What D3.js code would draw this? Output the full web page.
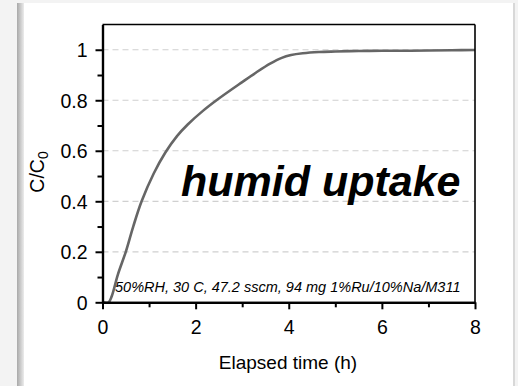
<!DOCTYPE html>
<html>
<head>
<meta charset="utf-8">
<script src="https://cdn.jsdelivr.net/npm/d3@7"></script>
<style>
body{margin:0;background:#fff;}
svg{display:block;font-family:Arial,"Liberation Sans",sans-serif;}
</style>
</head>
<body>
<div id="chart"></div>
<script>
// uptake curve
const timeH = [0, 0.13, 0.2, 0.33, 0.5, 0.66, 0.84, 1.1, 1.35, 1.6, 1.83, 2.15, 2.47, 3.0, 3.3, 3.6, 3.85, 4.05, 4.3, 4.65, 5.0, 5.5, 6.0, 6.5, 7.0, 7.5, 8.0];
const ratio = [0, 0, 0.025, 0.11, 0.2, 0.3, 0.4, 0.51, 0.593, 0.658, 0.704, 0.757, 0.803, 0.872, 0.91, 0.945, 0.968, 0.979, 0.986, 0.991, 0.993, 0.995, 0.996, 0.996, 0.997, 0.998, 0.999];
const xTicks = [0, 2, 4, 6, 8];
const yTicks = [0, 0.2, 0.4, 0.6, 0.8, 1];
const xMinor = [1, 3, 5, 7];
const yMinor = [0.1, 0.3, 0.5, 0.7, 0.9];

const W = 518, H = 386;
const m = {left:102.5, right:43, top:24.5, bottom:83.7};
const cw = W - m.left - m.right;
const ch = H - m.top - m.bottom;

const svg = d3.select('#chart').append('svg').attr('width', W).attr('height', H);

// card background
svg.append('rect').attr('width', W).attr('height', H).attr('fill', '#f3f3f3');
const grad = svg.append('defs').append('linearGradient').attr('id', 'sh');
grad.append('stop').attr('offset', '0%').attr('stop-color', '#a8a8a8');
grad.append('stop').attr('offset', '100%').attr('stop-color', '#ececec');
svg.append('rect').attr('x', 17).attr('y', 3).attr('width', 7).attr('height', H).attr('fill', 'url(#sh)');
svg.append('rect').attr('x', 24).attr('y', 3).attr('width', 489).attr('height', H).attr('fill', '#fff');
svg.append('rect').attr('x', 513).attr('y', 3).attr('width', 2).attr('height', H).attr('fill', '#d8d8d8');

const g = svg.append('g').attr('transform', `translate(${m.left},${m.top})`);

const x = d3.scaleLinear().domain([0, 8]).range([0, cw]);
const y = d3.scaleLinear().domain([0, 1.1]).range([ch, 0]);

// dashed grid
g.selectAll('.grid').data(yTicks.filter(d => d > 0)).join('line')
  .attr('x1', 0).attr('x2', cw)
  .attr('y1', d => y(d)).attr('y2', d => y(d))
  .attr('stroke', '#d0d0d0').attr('stroke-width', 1.2).attr('stroke-dasharray', '6,4');

// curve
const pts = timeH.map((t, i) => ({t: t, v: ratio[i]}));
g.append('path').datum(pts)
  .attr('fill', 'none').attr('stroke', '#666').attr('stroke-width', 2.6)
  .attr('d', d3.line().x(d => x(d.t)).y(d => y(d.v)).curve(d3.curveCatmullRom.alpha(0.5)));

// frame top/right
g.append('line').attr('x1', 0).attr('x2', cw).attr('y1', 0).attr('y2', 0).attr('stroke', '#000').attr('stroke-width', 1.6);
g.append('line').attr('x1', cw).attr('x2', cw).attr('y1', 0).attr('y2', ch).attr('stroke', '#000').attr('stroke-width', 1.6);

// axes
const xAxis = g.append('g').attr('transform', `translate(0,${ch})`)
  .call(d3.axisBottom(x).tickValues(xTicks).tickFormat(d3.format('d')).tickSize(7).tickSizeOuter(0).tickPadding(11));
const xMin = g.append('g').attr('transform', `translate(0,${ch})`)
  .call(d3.axisBottom(x).tickValues(xMinor).tickFormat('').tickSize(5).tickSizeOuter(0));
const yAxis = g.append('g')
  .call(d3.axisLeft(y).tickValues(yTicks).tickFormat(d => d === 0 || d === 1 ? d : d.toFixed(1)).tickSize(7).tickSizeOuter(0).tickPadding(8));
const yMin = g.append('g')
  .call(d3.axisLeft(y).tickValues(yMinor).tickFormat('').tickSize(5).tickSizeOuter(0));

[xAxis, xMin, yAxis, yMin].forEach(a => {
  a.select('.domain').attr('stroke', '#000').attr('stroke-width', 2.2);
  a.selectAll('.tick line').attr('stroke', '#000').attr('stroke-width', 2);
  a.selectAll('.tick text').attr('fill', '#000').style('font-size', '19.5px').style('font-family', 'Arial,"Liberation Sans",sans-serif');
});
yAxis.selectAll('.tick text').attr('dy', '0.35em');

// axis titles
svg.append('text').attr('x', 288).attr('y', 369).attr('text-anchor', 'middle')
  .style('font-size', '19px').text('Elapsed time (h)');
const yl = svg.append('text').attr('transform', 'translate(44,172) rotate(-90)').attr('text-anchor', 'middle')
  .style('font-size', '19.5px');
yl.append('tspan').text('C/C');
yl.append('tspan').attr('dy', 4).style('font-size', '14px').text('0');

// annotations
g.append('text').attr('x', 181 - m.left).attr('y', 196 - m.top)
  .style('font-size', '43px').style('font-style', 'italic').style('font-weight', 'bold')
  .text('humid uptake');
g.append('text').attr('x', 115 - m.left).attr('y', 292 - m.top)
  .style('font-size', '14.5px').style('font-style', 'italic')
  .text('50%RH, 30 C, 47.2 sscm, 94 mg 1%Ru/10%Na/M311');
</script>
</body>
</html>
